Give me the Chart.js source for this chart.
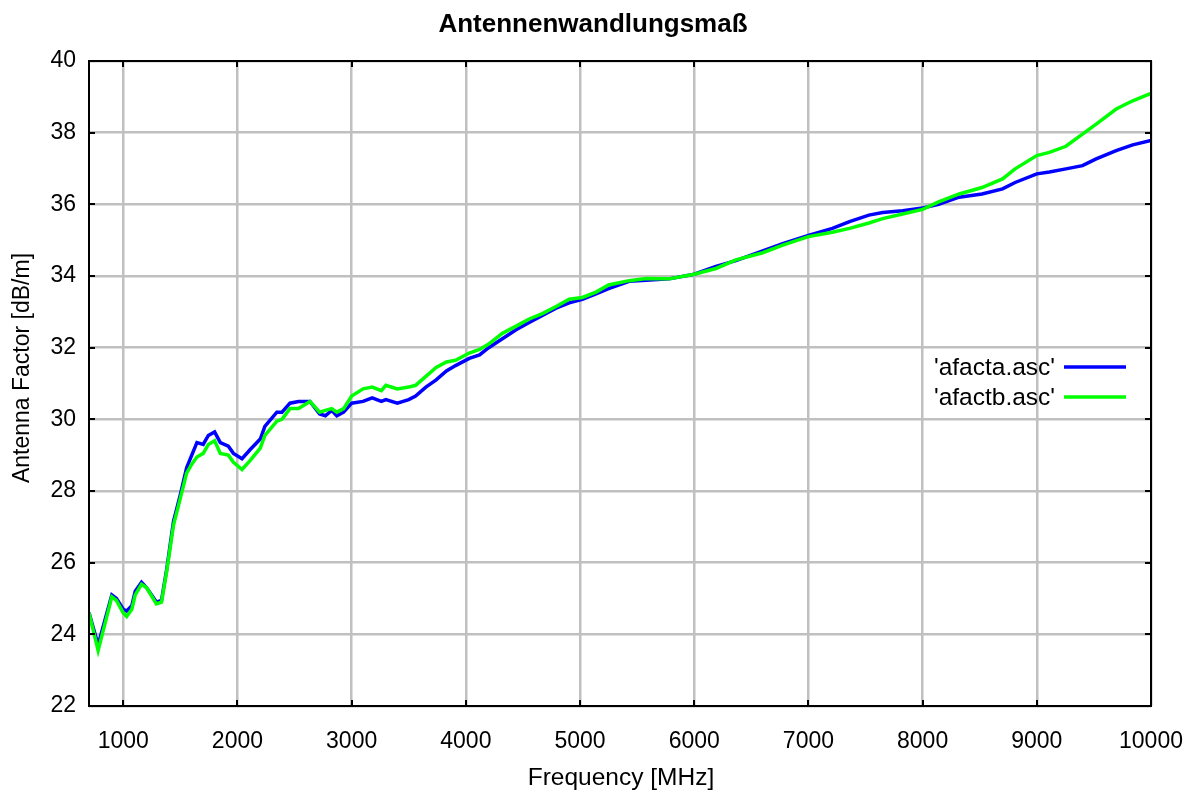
<!DOCTYPE html>
<html lang="en">
<head>
    <meta charset="UTF-8">
    <title>Antennenwandlungsmaß</title>
    <script src="https://cdn.jsdelivr.net/npm/chart.js"></script>
    <style>
        html, body { margin: 0; padding: 0; background: #ffffff; }
        #wrap { width: 1195px; height: 799px; }
    </style>
</head>
<body>
    <div id="wrap">
        <canvas id="afChart" width="1195" height="799"></canvas>
    </div>
<script>
// values
var freq = [700, 780, 840, 900, 940, 1000, 1030, 1075, 1105, 1160, 1205, 1290, 1335, 1380, 1440,
    1500, 1555, 1600, 1645, 1700, 1745, 1800, 1850, 1920, 1965, 2040, 2110, 2200, 2240, 2345,
    2390, 2460, 2535, 2635, 2720, 2770, 2825, 2870, 2930, 3000, 3100, 3180, 3260, 3300, 3400,
    3500, 3560, 3650, 3740, 3830, 3910, 4030, 4120, 4200, 4320, 4440, 4555, 4670, 4790, 4905,
    5020, 5140, 5250, 5430, 5580, 5780, 6000, 6190, 6365, 6600, 6775, 7000, 7210, 7360, 7530,
    7650, 7825, 8000, 8140, 8320, 8520, 8700, 8810, 9000, 9110, 9255, 9400, 9520, 9695, 9840, 10000];

var afactA = [24.6, 23.7, 24.4, 25.1, 25.0, 24.7, 24.65, 24.8, 25.2, 25.45, 25.3, 24.9, 24.95, 25.8, 27.15,
    27.9, 28.65, 29.0, 29.35, 29.3, 29.55, 29.65, 29.35, 29.25, 29.05, 28.9, 29.15, 29.45, 29.8, 30.2,
    30.2, 30.45, 30.5, 30.5, 30.15, 30.1, 30.25, 30.1, 30.2, 30.45, 30.5, 30.6, 30.5, 30.55, 30.45,
    30.55, 30.65, 30.9, 31.1, 31.35, 31.5, 31.7, 31.8, 32.0, 32.25, 32.5, 32.7, 32.9, 33.1, 33.25,
    33.35, 33.5, 33.65, 33.85, 33.88, 33.92, 34.05, 34.27, 34.43, 34.7, 34.9, 35.13, 35.33, 35.52, 35.7,
    35.77, 35.82, 35.9, 36.0, 36.2, 36.29, 36.43, 36.61, 36.85, 36.9, 36.99, 37.08, 37.27, 37.5, 37.66, 37.78];

var afactB = [24.6, 23.55, 24.3, 25.05, 24.95, 24.6, 24.5, 24.7, 25.1, 25.4, 25.3, 24.85, 24.9, 25.75, 27.05,
    27.8, 28.5, 28.75, 28.95, 29.05, 29.3, 29.4, 29.05, 29.0, 28.8, 28.6, 28.85, 29.2, 29.55, 29.95,
    30.0, 30.3, 30.3, 30.5, 30.2, 30.25, 30.3, 30.2, 30.3, 30.65, 30.85, 30.9, 30.8, 30.95, 30.85,
    30.9, 30.95, 31.2, 31.45, 31.6, 31.65, 31.85, 31.95, 32.1, 32.4, 32.6, 32.8, 32.95, 33.15, 33.35,
    33.4, 33.55, 33.75, 33.87, 33.93, 33.92, 34.05, 34.21, 34.45, 34.65, 34.86, 35.1, 35.22, 35.33, 35.48,
    35.6, 35.73, 35.86, 36.07, 36.29, 36.47, 36.71, 36.99, 37.36, 37.45, 37.62, 37.96, 38.24, 38.66, 38.89, 39.1];

var seriesNames = ["'afacta.asc'", "'afactb.asc'"];
var xTicks = [1000, 2000, 3000, 4000, 5000, 6000, 7000, 8000, 9000, 10000];
var yTicks = [22, 24, 26, 28, 30, 32, 34, 36, 38, 40];

var FONT = '"Liberation Sans", Arial, sans-serif';

function points(xs, ys) {
    return xs.map(function (x, i) { return { x: x, y: ys[i] }; });
}

// title, axis titles, full frame, inward ticks and the legend (gnuplot style)
var gnuplotLook = {
    id: 'gnuplotLook',
    afterDraw: function (chart) {
        var c = chart.ctx;
        var a = chart.chartArea;
        var xs = chart.scales.x, ys = chart.scales.y;
        c.save();

        // frame
        c.strokeStyle = '#000000';
        c.lineWidth = 2;
        c.strokeRect(a.left, a.top, a.right - a.left, a.bottom - a.top);

        // inward ticks on all four sides
        var tl = 6;
        c.beginPath();
        xTicks.forEach(function (v) {
            var px = Math.round(xs.getPixelForValue(v));
            c.moveTo(px, a.bottom); c.lineTo(px, a.bottom - tl);
            c.moveTo(px, a.top); c.lineTo(px, a.top + tl);
        });
        yTicks.forEach(function (v) {
            var py = Math.round(ys.getPixelForValue(v));
            c.moveTo(a.left, py); c.lineTo(a.left + tl, py);
            c.moveTo(a.right, py); c.lineTo(a.right - tl, py);
        });
        c.stroke();

        // texts
        c.fillStyle = '#000000';
        c.textAlign = 'center';
        c.textBaseline = 'middle';
        c.font = 'bold 26px ' + FONT;
        c.fillText('Antennenwandlungsmaß', 593, 25);

        c.font = '24.5px ' + FONT;
        c.fillText('Frequency [MHz]', 621, 778);

        c.save();
        c.translate(23, 368);
        c.rotate(-Math.PI / 2);
        c.font = '23px ' + FONT;
        c.fillText('Antenna Factor [dB/m]', 0, 0);
        c.restore();

        // legend
        c.textAlign = 'right';
        c.font = '24.5px ' + FONT;
        chart.data.datasets.forEach(function (ds, i) {
            var y = 367 + i * 30;
            c.fillStyle = '#000000';
            c.fillText(ds.label, 1055, y + 1);
            c.strokeStyle = ds.borderColor;
            c.lineWidth = 3.5;
            c.beginPath();
            c.moveTo(1064, y);
            c.lineTo(1126, y);
            c.stroke();
        });
        c.restore();
    }
};

var ctx = document.getElementById('afChart').getContext('2d');

var afChart = new Chart(ctx, {
    type: 'line',
    data: {
        datasets: [{
            label: seriesNames[0],
            data: points(freq, afactA),
            borderColor: '#0000ff',
            borderWidth: 3.5,
            pointRadius: 0,
            tension: 0,
            fill: false,
            order: 1
        }, {
            label: seriesNames[1],
            data: points(freq, afactB),
            borderColor: '#00ff00',
            borderWidth: 3.5,
            pointRadius: 0,
            tension: 0,
            fill: false,
            order: 0
        }]
    },
    options: {
        responsive: false,
        animation: false,
        layout: { padding: { top: 61, right: 44, bottom: 0, left: 0 } },
        plugins: {
            legend: { display: false },
            title: { display: false },
            tooltip: { enabled: false }
        },
        scales: {
            x: {
                type: 'linear',
                min: 700,
                max: 10000,
                afterBuildTicks: function (scale) {
                    scale.ticks = xTicks.map(function (v) { return { value: v }; });
                },
                afterFit: function (scale) {
                    scale.height = 93;
                    scale.paddingLeft = 0;
                    scale.paddingRight = 0;
                },
                grid: { color: '#c0c0c0', lineWidth: 2.5, drawTicks: false },
                border: { display: false },
                ticks: {
                    padding: 22,
                    color: '#000000',
                    maxRotation: 0,
                    font: { family: FONT, size: 23 },
                    callback: function (v) { return String(v); }
                }
            },
            y: {
                type: 'linear',
                min: 22,
                max: 40,
                afterBuildTicks: function (scale) {
                    scale.ticks = yTicks.map(function (v) { return { value: v }; });
                },
                afterFit: function (scale) {
                    scale.width = 89;
                    scale.paddingTop = 0;
                    scale.paddingBottom = 0;
                },
                grid: { color: '#c0c0c0', lineWidth: 2.5, drawTicks: false },
                border: { display: false },
                ticks: {
                    padding: 13,
                    color: '#000000',
                    font: { family: FONT, size: 23 },
                    callback: function (v) { return String(v); }
                }
            }
        }
    },
    plugins: [gnuplotLook]
});
</script>
</body>
</html>
